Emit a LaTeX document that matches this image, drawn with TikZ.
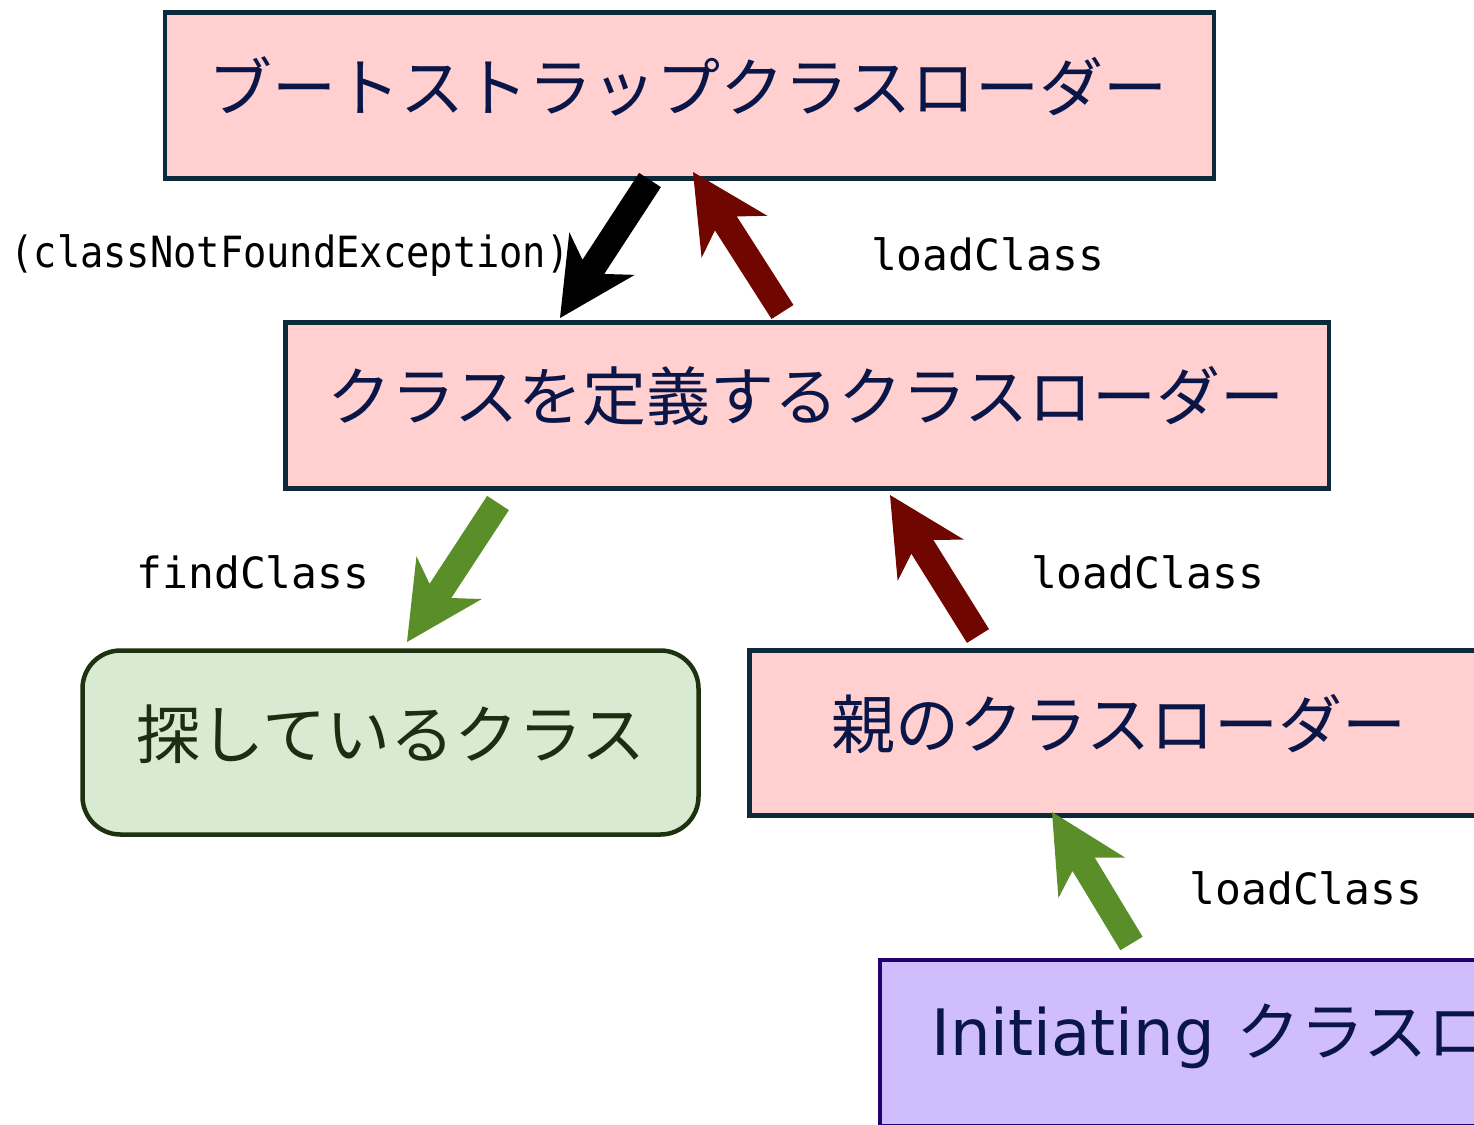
\documentclass[tikz,border=0pt]{standalone}
\usepackage{fontspec}
\usetikzlibrary{calc}
\newfontfamily\jp{Noto Sans CJK JP}
\newfontfamily\lat{DejaVu Sans}
\newfontfamily\mono{DejaVu Sans Mono}

\definecolor{boxpink}{RGB}{255,208,207}
\definecolor{boxline}{RGB}{12,42,59}
\definecolor{textnavy}{RGB}{10,22,72}
\definecolor{foundfill}{RGB}{217,234,211}
\definecolor{foundline}{RGB}{30,50,16}
\definecolor{foundtext}{RGB}{30,44,16}
\definecolor{initfill}{RGB}{208,189,254}
\definecolor{initline}{RGB}{34,0,110}
\definecolor{arrowred}{RGB}{112,6,0}
\definecolor{arrowgreen}{RGB}{90,142,41}

% fat block arrow: colour, tail coordinate, tip coordinate
\newcommand\blockarrow[3]{%
  \fill[#1] (#3)
    -- ($(#3)!86.3pt!26.9:(#2)$)
    -- ($(#3)!62.4pt!12:(#2)$)
    -- ($(#2)!13pt!-90:(#3)$)
    -- ($(#2)!13pt!90:(#3)$)
    -- ($(#3)!62.4pt!-12:(#2)$)
    -- ($(#3)!86.3pt!-26.9:(#2)$)
    -- cycle;}

\tikzset{
  loaderbox/.style={draw=boxline, line width=4.5pt, fill=boxpink, inner sep=0pt},
  foundbox/.style={draw=foundline, line width=4.5pt, fill=foundfill, inner sep=0pt,
    rounded corners=38pt},
  initbox/.style={draw=initline, line width=4.5pt, fill=initfill, inner sep=0pt},
  boxtext/.style={inner sep=0pt, text=textnavy, font=\jp\fontsize{64}{70}\selectfont},
  calllabel/.style={inner sep=0pt, text=black, font=\mono\fontsize{43}{48}\selectfont},
}

\begin{document}
\begin{tikzpicture}[x=1pt, y=-1pt]
  \useasboundingbox (0,0) rectangle (1474,1124);
  \clip (0,0) rectangle (1474,1124);

  % class loader boxes
  \node[loaderbox, minimum width=1049pt, minimum height=166pt] (top) at (689.5,95.5) {};
  \node[loaderbox, minimum width=1043.5pt, minimum height=166pt] (mid) at (807,405.5) {};
  \node[foundbox, minimum width=616pt, minimum height=184pt] (found) at (390.5,742.5) {};
  \node[loaderbox, minimum width=740pt, minimum height=165pt] (parent) at (1119.5,733) {};
  \node[initbox, minimum width=794pt, minimum height=166pt] (init) at (1277,1043) {};

  % box captions
  \node[boxtext] (toptext) at (688,86) {ブートストラップクラスローダー};
  \node[boxtext] (midtext) at (806,396) {クラスを定義するクラスローダー};
  \node[boxtext, text=foundtext] (foundtext) at (391,734) {探しているクラス};
  \node[boxtext] (parenttext) at (1119,724) {親のクラスローダー};
  \node[boxtext, anchor=west] (inittext) at (931,1035)
    {{\lat Initiating}\hspace{22pt}クラスローダー};

  % call labels
  \node[calllabel, xscale=0.9] (lexc) at (290,256) {(classNotFoundException)};
  \node[calllabel] (lload1) at (987.5,254) {loadClass};
  \node[calllabel] (lfind) at (253,572) {findClass};
  \node[calllabel] (lload2) at (1147.5,572) {loadClass};
  \node[calllabel] (lload3) at (1306,888) {loadClass};

  % arrow end points
  \coordinate (a1s) at (650,180);   \coordinate (a1e) at (560,318);
  \coordinate (a2s) at (782.5,312); \coordinate (a2e) at (693,172);
  \coordinate (a3s) at (498,503);   \coordinate (a3e) at (407,642);
  \coordinate (a4s) at (978,636);   \coordinate (a4e) at (890,495);
  \coordinate (a5s) at (1131.5,943.5); \coordinate (a5e) at (1052,812);

  \blockarrow{black}{a1s}{a1e}
  \blockarrow{arrowred}{a2s}{a2e}
  \blockarrow{arrowgreen}{a3s}{a3e}
  \blockarrow{arrowred}{a4s}{a4e}
  \blockarrow{arrowgreen}{a5s}{a5e}
\end{tikzpicture}
\end{document}
